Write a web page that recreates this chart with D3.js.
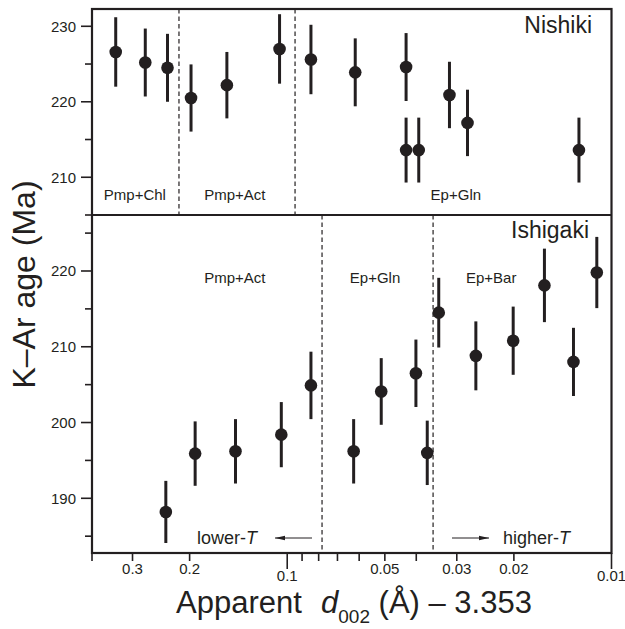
<!DOCTYPE html>
<html>
<head>
<meta charset="utf-8">
<script src="https://cdn.jsdelivr.net/npm/d3@7"></script>
<style>
  html, body { margin: 0; padding: 0; background: #fff; }
  svg { display: block; font-family: "Liberation Sans", Arial, Helvetica, sans-serif; }
</style>
</head>
<body>
<svg id="chart" width="625" height="629"></svg>
<script>
// ---------- data ----------
const nishikiX   = [0.338, 0.274, 0.234, 0.198, 0.1535, 0.1056, 0.0845, 0.0617, 0.0430, 0.0430, 0.0393, 0.0316, 0.0278, 0.0126];
const nishikiAge = [226.6, 225.2, 224.5, 220.5, 222.2, 227.0, 225.6, 223.9, 224.6, 213.6, 213.6, 220.9, 217.2, 213.6];
const nishikiErr = [4.6, 4.5, 4.5, 4.45, 4.4, 4.6, 4.6, 4.5, 4.5, 4.3, 4.3, 4.4, 4.4, 4.3];

const ishigakiX   = [0.2368, 0.1923, 0.1444, 0.1043, 0.0845, 0.0624, 0.0513, 0.0401, 0.0370, 0.0341, 0.0262, 0.0201, 0.0161, 0.0131, 0.0111];
const ishigakiAge = [188.2, 195.9, 196.2, 198.4, 204.9, 196.2, 204.1, 206.5, 196.0, 214.5, 208.8, 210.8, 218.1, 208.0, 219.8];
const ishigakiErr = [4.1, 4.25, 4.25, 4.3, 4.45, 4.25, 4.4, 4.45, 4.25, 4.6, 4.55, 4.5, 4.85, 4.5, 4.7];

const nishikiBounds  = [0.2157, 0.0946];
const ishigakiBounds = [0.0781, 0.0355];

const nishikiZones  = [["Pmp+Chl", 0.295], ["Pmp+Act", 0.145], ["Ep+Gln", 0.0302]];
const ishigakiZones = [["Pmp+Act", 0.145], ["Ep+Gln", 0.0536], ["Ep+Bar", 0.0235]];

const xTickValues = [0.4, 0.3, 0.2, 0.1, 0.09, 0.08, 0.07, 0.06, 0.05, 0.04, 0.03, 0.02, 0.01];
const xTickLabels = {0.3: "0.3", 0.2: "0.2", 0.1: "0.1", 0.05: "0.05", 0.03: "0.03", 0.02: "0.02", 0.01: "0.01"};
const xMajor = [0.1, 0.01];

const topMajorTicks = [230, 220, 210];
const topMinorTicks = [225, 215, 205];
const botMajorTicks = [220, 210, 200, 190];
const botMinorTicks = [225, 215, 205, 195, 185];

// ---------- layout ----------
const INK = "#231f20";
const L = 92, R = 611.5, T = 9, MID = 215, B = 553;

const svg = d3.select("#chart");

const x = d3.scaleLog().domain([0.4, 0.01]).range([L, R]);
const yTop = d3.scaleLinear().domain([205, 232.29]).range([MID, T]);
const yBot = d3.scaleLinear().domain([182.78, 227.39]).range([B, MID]);

// dashed boundaries
function bounds(vals, y0, y1) {
  svg.append("g").selectAll("line").data(vals).join("line")
    .attr("x1", d => x(d)).attr("x2", d => x(d))
    .attr("y1", y0).attr("y2", y1)
    .attr("stroke", INK).attr("stroke-width", 1.2)
    .attr("stroke-dasharray", "4.5,3");
}
bounds(nishikiBounds, T, MID);
bounds(ishigakiBounds, MID, B);

// zone labels
function zones(list, yb) {
  svg.append("g").selectAll("text").data(list).join("text")
    .attr("x", d => x(d[1])).attr("y", yb)
    .attr("text-anchor", "middle")
    .attr("font-size", 15).attr("fill", INK)
    .text(d => d[0]);
}
zones(nishikiZones, 200);
zones(ishigakiZones, 283);

// data points
function points(xs, ages, errs, y) {
  const data = xs.map((v, i) => ({x: v, a: ages[i], e: errs[i]}));
  const g = svg.append("g");
  g.selectAll("line").data(data).join("line")
    .attr("x1", d => x(d.x)).attr("x2", d => x(d.x))
    .attr("y1", d => y(d.a + d.e)).attr("y2", d => y(d.a - d.e))
    .attr("stroke", INK).attr("stroke-width", 3);
  g.selectAll("circle").data(data).join("circle")
    .attr("cx", d => x(d.x)).attr("cy", d => y(d.a))
    .attr("r", 6.3).attr("fill", INK);
}
points(nishikiX, nishikiAge, nishikiErr, yTop);
points(ishigakiX, ishigakiAge, ishigakiErr, yBot);

// frame
svg.append("rect").attr("x", L).attr("y", T).attr("width", R - L).attr("height", B - T)
  .attr("fill", "none").attr("stroke", INK).attr("stroke-width", 2.2);
svg.append("line").attr("x1", L).attr("x2", R).attr("y1", MID).attr("y2", MID)
  .attr("stroke", INK).attr("stroke-width", 2.2);

// y axes
function yAxis(y, major, minor) {
  const g = svg.append("g");
  g.selectAll("line.maj").data(major).join("line").attr("class", "maj")
    .attr("x1", L - 11).attr("x2", L).attr("y1", d => y(d)).attr("y2", d => y(d))
    .attr("stroke", INK).attr("stroke-width", 1.6);
  g.selectAll("line.min").data(minor).join("line").attr("class", "min")
    .attr("x1", L - 7).attr("x2", L).attr("y1", d => y(d)).attr("y2", d => y(d))
    .attr("stroke", INK).attr("stroke-width", 1.6);
  g.selectAll("text").data(major).join("text")
    .attr("x", L - 16).attr("y", d => y(d)).attr("dy", "0.36em")
    .attr("text-anchor", "end").attr("font-size", 15).attr("fill", INK)
    .text(d => d);
}
yAxis(yTop, topMajorTicks, topMinorTicks);
yAxis(yBot, botMajorTicks, botMinorTicks);

// x axis
const gx = svg.append("g");
gx.selectAll("line").data(xTickValues).join("line")
  .attr("x1", d => x(d)).attr("x2", d => x(d))
  .attr("y1", B).attr("y2", d => xMajor.includes(d) ? B + 16 : B + 8)
  .attr("stroke", INK).attr("stroke-width", 1.6);
gx.selectAll("text").data(xTickValues.filter(d => xTickLabels[d])).join("text")
  .attr("x", d => x(d)).attr("y", d => xMajor.includes(d) ? 581 : 574)
  .attr("text-anchor", "middle").attr("font-size", 15).attr("fill", INK)
  .text(d => xTickLabels[d]);

// panel names
svg.append("text").attr("x", 592).attr("y", 33).attr("text-anchor", "end")
  .attr("font-size", 23).attr("fill", INK).text("Nishiki");
svg.append("text").attr("x", 589).attr("y", 238).attr("text-anchor", "end")
  .attr("font-size", 23).attr("fill", INK).text("Ishigaki");

// arrows
const defs = svg.append("defs");
defs.append("marker").attr("id", "ah").attr("viewBox", "0 0 10 6")
  .attr("refX", 10).attr("refY", 3).attr("markerWidth", 10).attr("markerHeight", 6)
  .attr("markerUnits", "userSpaceOnUse").attr("orient", "auto")
  .append("path").attr("d", "M0,0.8 L10,3 L0,5.2 Z").attr("fill", INK);
svg.append("line").attr("x1", 312).attr("x2", 275).attr("y1", 538).attr("y2", 538)
  .attr("stroke", INK).attr("stroke-width", 1).attr("marker-end", "url(#ah)");
svg.append("line").attr("x1", 452).attr("x2", 489).attr("y1", 538).attr("y2", 538)
  .attr("stroke", INK).attr("stroke-width", 1).attr("marker-end", "url(#ah)");

const lt = svg.append("text").attr("x", 197).attr("y", 544).attr("font-size", 18).attr("fill", INK);
lt.append("tspan").text("lower-");
lt.append("tspan").attr("font-style", "italic").text("T");
const ht = svg.append("text").attr("x", 503).attr("y", 544).attr("font-size", 18).attr("fill", INK);
ht.append("tspan").text("higher-");
ht.append("tspan").attr("font-style", "italic").text("T");

// axis titles
svg.append("text")
  .attr("transform", "translate(35,284.5) rotate(-90)")
  .attr("text-anchor", "middle").attr("font-size", 32).attr("fill", INK)
  .text("K\u2013Ar age (Ma)");

const xt = svg.append("text").attr("x", 176).attr("y", 613).attr("font-size", 31).attr("fill", INK);
xt.append("tspan").text("Apparent");
xt.append("tspan").attr("x", 321).attr("font-style", "italic").text("d");
xt.append("tspan").attr("font-size", 19).attr("dy", 10).text("002");
xt.append("tspan").attr("dy", -10).text("\u00a0(\u00c5) \u2013 3.353");
</script>
</body>
</html>
